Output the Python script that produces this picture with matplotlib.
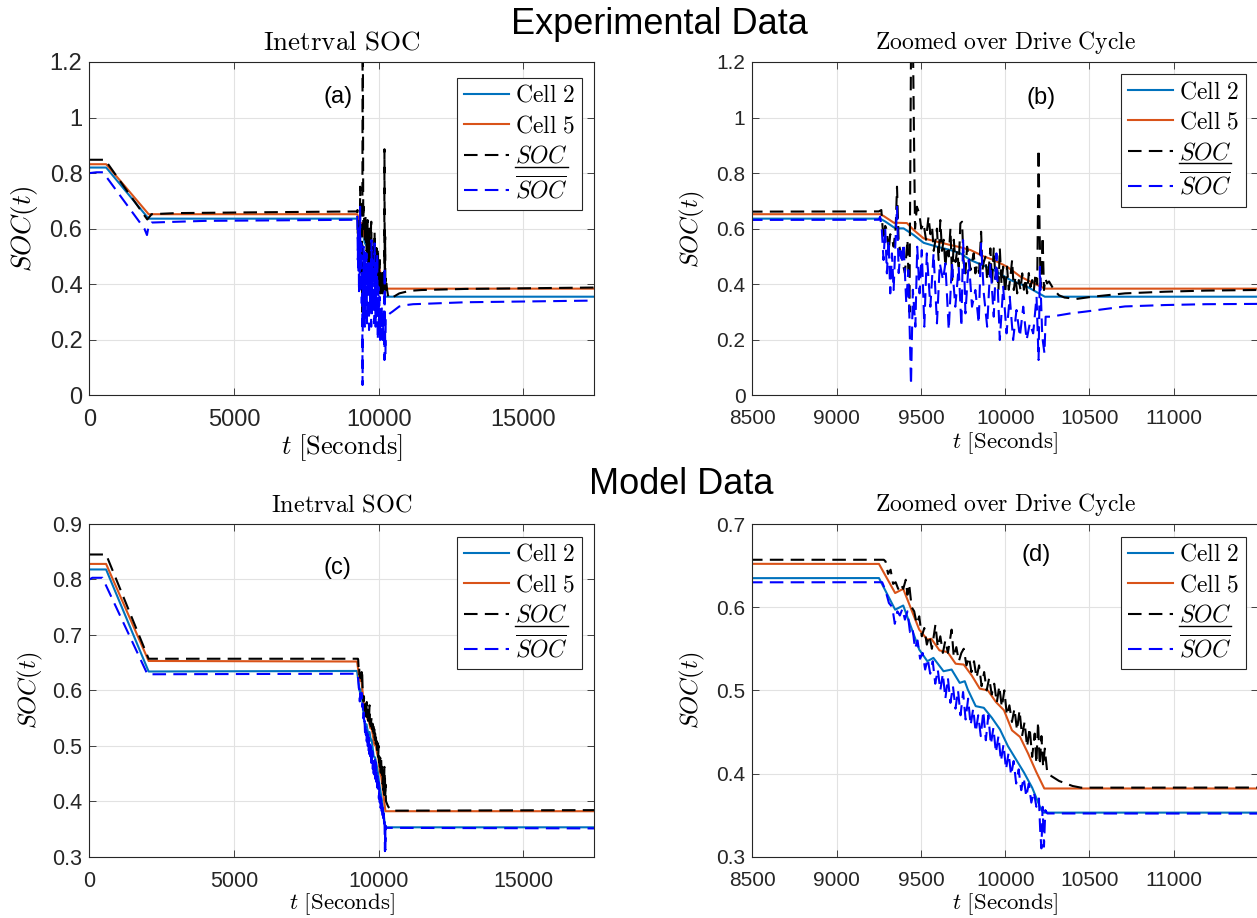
#!/usr/bin/env python3
"""
Interval SOC, experimental vs model data (2x2 panels).
Output: out.png
"""

import matplotlib; matplotlib.use('Agg')
import matplotlib.pyplot as plt
from matplotlib.lines import Line2D
from matplotlib.ticker import FuncFormatter

plt.rcParams.update({'font.family': 'Liberation Sans', 'mathtext.fontset': 'cm',
                     'axes.edgecolor': '#262626', 'axes.linewidth': 0.8,
                     'xtick.direction': 'in', 'ytick.direction': 'in',
                     'xtick.top': True, 'ytick.right': True,
                     'xtick.color': '#262626', 'ytick.color': '#262626'})

# ---------------- experimental data ----------------
exp_cell2_t = [0, 580, 2047, 9258, 9290, 9348, 9397, 9457, 9516, 9595,
               9675, 9734, 9794, 9932, 10031, 10130, 10235, 17440]
exp_cell2 = [0.820, 0.820, 0.636, 0.636, 0.625, 0.601, 0.601, 0.577, 0.549, 0.535,
             0.523, 0.511, 0.487, 0.451, 0.415, 0.391, 0.355, 0.355]

exp_cell5_t = [0, 580, 2047, 9258, 9280, 9340, 9367, 9417, 9457, 9516,
               9595, 9675, 9734, 9794, 9873, 9932, 10011, 10091, 10170, 10235,
               17440]
exp_cell5 = [0.832, 0.832, 0.652, 0.652, 0.645, 0.621, 0.621, 0.620, 0.595, 0.565,
             0.553, 0.541, 0.533, 0.523, 0.500, 0.487, 0.463, 0.427, 0.403, 0.384,
             0.384]

exp_socl_t = [0, 540, 2000, 2150, 3000, 6000, 9250, 9265, 9278, 9288,
              9298, 9308, 9318, 9328, 9338, 9350, 9358, 9368, 9378, 9390,
              9405, 9420, 9432, 9442, 9452, 9465, 9476, 9490, 9502, 9516,
              9530, 9545, 9556, 9566, 9576, 9586, 9595, 9605, 9615, 9625,
              9635, 9645, 9655, 9665, 9675, 9685, 9695, 9705, 9715, 9724,
              9734, 9744, 9754, 9764, 9774, 9784, 9794, 9803, 9813, 9823,
              9833, 9845, 9857, 9865, 9873, 9883, 9893, 9903, 9912, 9922,
              9932, 9942, 9952, 9960, 9968, 9978, 9988, 10000, 10011, 10021,
              10031, 10041, 10051, 10061, 10071, 10081, 10091, 10101, 10111, 10121,
              10130, 10140, 10150, 10160, 10170, 10180, 10190, 10198, 10204, 10210,
              10216, 10222, 10230, 10239, 10248, 10260, 10289, 10319, 10352, 10423,
              10519, 10711, 10950, 11190, 11471, 13000, 17440]
exp_socl = [0.848, 0.848, 0.633, 0.652, 0.656, 0.659, 0.662, 0.667, 0.559, 0.610,
            0.595, 0.517, 0.580, 0.565, 0.535, 0.600, 0.751, 0.547, 0.520, 0.480,
            0.440, 0.560, 0.300, 1.350, 1.300, 0.600, 0.679, 0.655, 0.600, 0.619,
            0.560, 0.643, 0.580, 0.607, 0.520, 0.559, 0.600, 0.487, 0.631, 0.520,
            0.560, 0.463, 0.535, 0.500, 0.600, 0.415, 0.560, 0.480, 0.520, 0.463,
            0.619, 0.625, 0.463, 0.439, 0.535, 0.499, 0.451, 0.480, 0.511, 0.439,
            0.470, 0.440, 0.589, 0.451, 0.480, 0.499, 0.415, 0.460, 0.529, 0.403,
            0.529, 0.420, 0.470, 0.379, 0.529, 0.400, 0.463, 0.367, 0.463, 0.380,
            0.427, 0.487, 0.379, 0.427, 0.367, 0.415, 0.379, 0.439, 0.380, 0.420,
            0.367, 0.440, 0.390, 0.415, 0.379, 0.439, 0.400, 0.886, 0.600, 0.391,
            0.450, 0.571, 0.379, 0.420, 0.403, 0.410, 0.380, 0.360, 0.352, 0.347,
            0.355, 0.367, 0.373, 0.377, 0.379, 0.383, 0.388]

exp_socu_t = [0, 250, 470, 1900, 1990, 2050, 2150, 4000, 9250, 9258,
              9268, 9278, 9288, 9298, 9308, 9318, 9328, 9338, 9348, 9358,
              9368, 9378, 9387, 9397, 9413, 9425, 9441, 9452, 9467, 9478,
              9492, 9505, 9520, 9535, 9556, 9575, 9595, 9612, 9631, 9645,
              9665, 9684, 9704, 9724, 9740, 9750, 9758, 9764, 9784, 9803,
              9823, 9843, 9857, 9873, 9893, 9912, 9932, 9948, 9968, 9988,
              10008, 10027, 10047, 10067, 10087, 10107, 10127, 10146, 10166, 10186,
              10198, 10206, 10220, 10233, 10240, 10269, 10329, 10388, 10471, 10711,
              10950, 11190, 11471, 13000, 17440]
exp_socu = [0.800, 0.803, 0.803, 0.600, 0.577, 0.612, 0.622, 0.628, 0.632, 0.643,
            0.595, 0.487, 0.600, 0.439, 0.560, 0.367, 0.511, 0.379, 0.540, 0.679,
            0.440, 0.520, 0.475, 0.547, 0.331, 0.451, 0.037, 0.380, 0.247, 0.535,
            0.367, 0.523, 0.247, 0.511, 0.319, 0.511, 0.259, 0.475, 0.415, 0.475,
            0.235, 0.475, 0.319, 0.463, 0.247, 0.559, 0.427, 0.295, 0.487, 0.319,
            0.379, 0.259, 0.547, 0.367, 0.247, 0.475, 0.283, 0.511, 0.199, 0.391,
            0.223, 0.355, 0.199, 0.307, 0.211, 0.319, 0.199, 0.259, 0.223, 0.355,
            0.127, 0.463, 0.211, 0.151, 0.283, 0.283, 0.289, 0.295, 0.301, 0.320,
            0.325, 0.328, 0.329, 0.335, 0.341]

# ---------------- model data ----------------
mod_cell2_t = [0, 577, 2047, 9251, 9347, 9395, 9490, 9538, 9574, 9634,
               9682, 9730, 9760, 9778, 9825, 9873, 9921, 9969, 10016, 10064,
               10112, 10160, 10208, 10225, 17440]
mod_cell2 = [0.818, 0.818, 0.634, 0.635, 0.597, 0.602, 0.549, 0.535, 0.539, 0.523,
             0.525, 0.509, 0.511, 0.501, 0.481, 0.479, 0.467, 0.453, 0.433, 0.417,
             0.401, 0.383, 0.359, 0.353, 0.353]

mod_cell5_t = [0, 577, 2047, 9251, 9347, 9395, 9490, 9538, 9562, 9610,
               9658, 9706, 9754, 9801, 9849, 9897, 9945, 9993, 10040, 10088,
               10136, 10184, 10232, 17440]
mod_cell5 = [0.828, 0.828, 0.653, 0.652, 0.617, 0.622, 0.573, 0.561, 0.562, 0.548,
             0.546, 0.532, 0.531, 0.518, 0.502, 0.500, 0.486, 0.476, 0.452, 0.444,
             0.424, 0.402, 0.382, 0.382]

mod_socl_t = [0, 577, 2047, 9280, 9290, 9305, 9320, 9335, 9350, 9365,
              9380, 9395, 9410, 9420, 9430, 9445, 9460, 9475, 9490, 9505,
              9520, 9535, 9550, 9565, 9586, 9600, 9615, 9630, 9645, 9660,
              9682, 9695, 9710, 9725, 9740, 9754, 9770, 9785, 9800, 9815,
              9830, 9845, 9860, 9875, 9890, 9905, 9920, 9935, 9950, 9965,
              9980, 9995, 10010, 10025, 10040, 10055, 10070, 10085, 10100, 10115,
              10130, 10145, 10160, 10175, 10185, 10195, 10205, 10215, 10225, 10235,
              10250, 10320, 10400, 10450, 17440]
mod_socl = [0.845, 0.845, 0.657, 0.657, 0.655, 0.640, 0.645, 0.628, 0.630, 0.622,
            0.628, 0.622, 0.633, 0.615, 0.628, 0.600, 0.595, 0.580, 0.589, 0.565,
            0.575, 0.555, 0.566, 0.550, 0.579, 0.552, 0.565, 0.545, 0.560, 0.545,
            0.573, 0.540, 0.552, 0.535, 0.545, 0.550, 0.530, 0.540, 0.522, 0.535,
            0.515, 0.530, 0.505, 0.522, 0.500, 0.515, 0.495, 0.508, 0.485, 0.505,
            0.480, 0.500, 0.470, 0.482, 0.462, 0.478, 0.452, 0.476, 0.445, 0.462,
            0.432, 0.455, 0.420, 0.448, 0.412, 0.462, 0.410, 0.445, 0.408, 0.430,
            0.400, 0.391, 0.385, 0.383, 0.384]

mod_socu_t = [0, 100, 450, 2006, 9270, 9290, 9310, 9330, 9345, 9360,
              9375, 9390, 9405, 9420, 9435, 9450, 9465, 9480, 9495, 9510,
              9525, 9540, 9555, 9570, 9585, 9600, 9615, 9630, 9645, 9660,
              9675, 9690, 9705, 9720, 9735, 9750, 9765, 9780, 9795, 9810,
              9825, 9840, 9855, 9870, 9885, 9900, 9915, 9930, 9945, 9960,
              9975, 9990, 10005, 10020, 10035, 10050, 10065, 10080, 10095, 10110,
              10125, 10140, 10155, 10170, 10185, 10200, 10208, 10215, 10222, 10230,
              10238, 10250, 17440]
mod_socu = [0.800, 0.803, 0.803, 0.629, 0.630, 0.620, 0.605, 0.600, 0.580, 0.595,
            0.590, 0.598, 0.585, 0.595, 0.570, 0.575, 0.550, 0.560, 0.538, 0.545,
            0.525, 0.538, 0.520, 0.535, 0.508, 0.525, 0.500, 0.520, 0.490, 0.515,
            0.485, 0.505, 0.478, 0.500, 0.470, 0.498, 0.465, 0.490, 0.458, 0.478,
            0.450, 0.470, 0.445, 0.475, 0.440, 0.470, 0.435, 0.455, 0.425, 0.445,
            0.415, 0.435, 0.405, 0.425, 0.398, 0.415, 0.388, 0.405, 0.380, 0.395,
            0.372, 0.388, 0.365, 0.378, 0.360, 0.370, 0.330, 0.310, 0.360, 0.312,
            0.356, 0.352, 0.351]

labels = [r'$\mathrm{Cell\ 2}$', r'$\mathrm{Cell\ 5}$', r'$SOC$', r'$\overline{SOC}$']
exp_series = [(exp_cell2_t, exp_cell2), (exp_cell5_t, exp_cell5),
              (exp_socl_t, exp_socl), (exp_socu_t, exp_socu)]
mod_series = [(mod_cell2_t, mod_cell2), (mod_cell5_t, mod_cell5),
              (mod_socl_t, mod_socl), (mod_socu_t, mod_socu)]

C2, C5 = '#0072BD', '#D95319'
W, H = 1257, 918
fig = plt.figure(figsize=(W / 100, H / 100), dpi=100)


def px(x0, y0, x1, y1):
    return [x0 / W, 1 - y1 / H, (x1 - x0) / W, (y1 - y0) / H]


def panel(rect, series, xlim, xticks, ylim, yticks, title, tag, tagxy, leg_ur,
          tick_fs, lab_fs, title_fs, ylab_fs, ylab_x, xlab_y):
    ax = fig.add_axes(rect)
    (t2, c2), (t5, c5), (tl, sl), (tu, su) = series
    ax.plot(t2, c2, color=C2, lw=1.5)
    ax.plot(t5, c5, color=C5, lw=1.5)
    ax.plot(tl, sl, color='k', lw=1.5, ls=(0, (6.5, 3.5)))
    ax.plot(tu, su, color='#0000FF', lw=1.5, ls=(0, (6.5, 3.5)))
    ax.set_xlim(*xlim)
    ax.set_ylim(*ylim)
    ax.set_xticks(xticks)
    ax.set_yticks(yticks)
    ax.yaxis.set_major_formatter(FuncFormatter(lambda v, p: '%g' % round(v, 3)))
    ax.tick_params(labelsize=tick_fs, length=5, width=0.6)
    ax.tick_params(axis='x', pad=10)
    ax.tick_params(axis='y', pad=5)
    ax.grid(True, color='#e2e2e2', lw=0.8)
    ax.set_axisbelow(True)
    ax.set_title(r'$\mathrm{%s}$' % title.replace(' ', r'\ '), fontsize=title_fs, pad=9)
    ax.set_xlabel(r'$t\ \mathrm{[Seconds]}$', fontsize=lab_fs)
    ax.set_ylabel(r'$SOC(t)$', fontsize=ylab_fs)
    ax.xaxis.set_label_coords(0.5, xlab_y)
    ax.yaxis.set_label_coords(ylab_x, 0.5)
    ax.text(tagxy[0], tagxy[1], tag, fontsize=17, ha='center', va='center')
    leg = ax.legend(labels, loc='upper right', bbox_to_anchor=(leg_ur[0] / W, 1 - leg_ur[1] / H),
                    bbox_transform=fig.transFigure, fontsize=17, frameon=True, fancybox=False,
                    edgecolor='#262626', framealpha=1, borderaxespad=0, borderpad=0.3,
                    labelspacing=0.36, handlelength=1.9, handletextpad=0.25)
    leg.get_frame().set_linewidth(0.8)
    return ax, leg


legs = []
_, lg = panel(px(89.4, 62, 594, 395.3), exp_series, (0, 17440), [0, 5000, 10000, 15000],
              (0, 1.2), [0, 0.2, 0.4, 0.6, 0.8, 1.0, 1.2], 'Inetrval SOC', '(a)', (8600, 1.075),
              (582.3, 77.7), 17, 19, 19.5, 19.5, -0.098, -0.11)
legs.append(lg)
_, lg = panel(px(752.4, 62, 1258, 395.3), exp_series, (8500, 11500),
              [8500, 9000, 9500, 10000, 10500, 11000],
              (0, 1.2), [0, 0.2, 0.4, 0.6, 0.8, 1.0, 1.2], 'Zoomed over Drive Cycle', '(b)',
              (10215, 1.07), (1245.7, 74), 15, 16.5, 17, 17.5, -0.09, -0.105)
legs.append(lg)
_, lg = panel(px(89.4, 524, 594, 856.7), mod_series, (0, 17440), [0, 5000, 10000, 15000],
              (0.3, 0.9), [0.3, 0.4, 0.5, 0.6, 0.7, 0.8, 0.9], 'Inetrval SOC', '(c)', (8571, 0.82),
              (582.3, 536.7), 15.5, 16.5, 17.5, 17.5, -0.087, -0.103)
legs.append(lg)
_, lg = panel(px(752.4, 524, 1258, 856.7), mod_series, (8500, 11500),
              [8500, 9000, 9500, 10000, 10500, 11000],
              (0.3, 0.7), [0.3, 0.4, 0.5, 0.6, 0.7], 'Zoomed over Drive Cycle', '(d)',
              (10184, 0.663), (1245.7, 536.7), 15, 16.5, 17, 17.5, -0.09, -0.103)
legs.append(lg)

fig.text(659 / W, 1 - 25 / H, 'Experimental Data', ha='center', va='center', fontsize=26)
fig.text(681 / W, 1 - 484 / H, 'Model Data', ha='center', va='center', fontsize=26)

# underline the lower-bound SOC label (mathtext has no \underline)
fig.canvas.draw()
r = fig.canvas.get_renderer()
inv = fig.transFigure.inverted()
for lg in legs:
    bb = lg.get_texts()[2].get_window_extent(r)
    (x0, y0), (x1, _) = inv.transform([(bb.x0, bb.y0 + 1), (bb.x1, bb.y0 + 1)])
    fig.add_artist(Line2D([x0, x1], [y0, y0], color='k', lw=1.0, transform=fig.transFigure))

fig.savefig('out.png', dpi=100)
plt.close(fig)
